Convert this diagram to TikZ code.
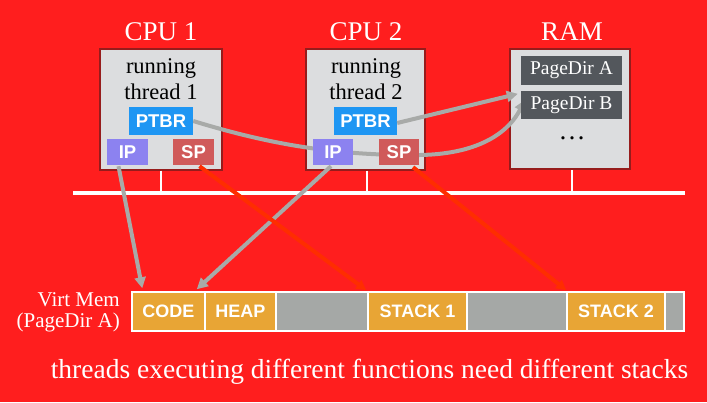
\documentclass[tikz,border=0pt]{standalone}
\usepackage{fontspec}
\setmainfont{Liberation Serif}
\setsansfont{Liberation Sans}
\usetikzlibrary{arrows.meta,calc}
\pgfdeclarelayer{bg}
\pgfdeclarelayer{mid}
\pgfsetlayers{bg,mid,main}
\definecolor{bgred}{RGB}{255,30,30}
\definecolor{boxfill}{RGB}{220,221,223}
\definecolor{boxline}{RGB}{150,28,28}
\definecolor{ptbrblue}{RGB}{30,150,243}
\definecolor{ippurple}{RGB}{140,130,240}
\definecolor{spred}{RGB}{208,90,90}
\definecolor{pddark}{RGB}{83,87,92}
\definecolor{segorange}{RGB}{232,165,53}
\definecolor{seggray}{RGB}{165,168,166}
\definecolor{arrgray}{RGB}{168,170,168}
\definecolor{arrred}{RGB}{255,45,0}
\tikzset{
  unitbox/.style={draw=boxline, line width=2pt, fill=boxfill, inner sep=0pt, minimum height=121pt},
  title/.style={text=white, font=\fontsize{27}{28}\selectfont, inner sep=0pt},
  reg/.style={inner sep=0pt, text=white, font=\sffamily\bfseries\fontsize{18.5}{18}\selectfont, minimum height=26pt},
  pdbox/.style={inner sep=0pt, fill=pddark, text=white, minimum width=101pt, font=\fontsize{19.5}{20}\selectfont},
  seg/.style={draw=white, line width=1.5pt, inner sep=0pt, minimum height=39pt, text=white, font=\sffamily\bfseries\fontsize{18}{18}\selectfont},
  orangeseg/.style={seg, fill=segorange},
  grayseg/.style={seg, fill=seggray},
  garrow/.style={draw=arrgray, line width=4pt, -{Triangle[length=11pt,width=11pt]}},
  rarrow/.style={draw=arrred, line width=4pt, -{Triangle[length=10pt,width=10pt]}},
  bus/.style={draw=white, line width=3.5pt},
  tick/.style={draw=white, line width=2pt}
}
\begin{document}
\begin{tikzpicture}[x=1pt,y=-1pt]
\useasboundingbox (0,0) rectangle (707,402);
\begin{pgfonlayer}{bg}
\fill[bgred] (0,0) rectangle (707,402);
\node[unitbox, minimum width=122pt] (cpu1) at (161,109) {};
\node[unitbox, minimum width=119pt] (cpu2) at (365.5,109) {};
\node[unitbox, minimum width=120pt, minimum height=120pt] (ram) at (570,109) {};
\end{pgfonlayer}
% titles
\node[title] (t1) at (161,32) {CPU 1};
\node[title] (t2) at (366,32) {CPU 2};
\node[title] (t3) at (572,32) {RAM};
% thread texts
\node[align=center, inner sep=0pt, font=\fontsize{22.5}{26}\selectfont] (th1) at (161,79.5) {running\\thread 1};
\node[align=center, inner sep=0pt, font=\fontsize{22.5}{26}\selectfont] (th2) at (366,79.5) {running\\thread 2};
% registers
\node[reg, fill=ptbrblue, minimum width=64pt, minimum height=28pt] (ptbr1) at (161,121) {PTBR};
\node[reg, fill=ptbrblue, minimum width=63pt, minimum height=28pt] (ptbr2) at (365.5,121) {PTBR};
\node[reg, fill=ippurple, minimum width=41pt] (ip1) at (127.5,152) {IP};
\node[reg, fill=spred, minimum width=41pt] (sp1) at (193.5,152) {SP};
\node[reg, fill=ippurple, minimum width=40pt] (ip2) at (333,152) {IP};
\node[reg, fill=spred, minimum width=40pt] (sp2) at (399,152) {SP};
% RAM contents
\node[pdbox, minimum height=29pt] (pdA) at (571.5,70.5) {PageDir A};
\node[pdbox, minimum height=28pt] (pdB) at (571.5,105) {PageDir B};
\node[anchor=base, inner sep=0pt, font=\fontsize{27}{27}\selectfont] (dots) at (572,139) {…};
% bus
\coordinate (busL) at (73,193);
\coordinate (busR) at (685,193);
\draw[bus] (busL) -- (busR);
\draw[tick] (cpu1.south) -- (cpu1.south |- busL);
\draw[tick] ([xshift=1.5pt]cpu2.south) -- ([xshift=1.5pt]cpu2.south |- busL);
\draw[tick] ([xshift=2pt]ram.south) -- ([xshift=2pt]ram.south |- busL);
% virtual memory bar
\node[orangeseg, minimum width=73pt] (code) at (168.5,311.5) {CODE};
\node[orangeseg, minimum width=71pt] (heap) at (240.5,311.5) {HEAP};
\node[grayseg, minimum width=92pt] (gap1) at (322,311.5) {};
\node[orangeseg, minimum width=99pt] (stack1) at (417.5,311.5) {STACK 1};
\node[grayseg, minimum width=100pt] (gap2) at (517,311.5) {};
\node[orangeseg, minimum width=98pt] (stack2) at (616,311.5) {STACK 2};
\node[grayseg, minimum width=19pt] (gap3) at (674.5,311.5) {};
\node[anchor=east, align=right, inner sep=0pt, text=white, font=\fontsize{21}{21}\selectfont] (vm) at (120,312) {Virt Mem\\(PageDir A)};
% caption
\node[anchor=base, inner sep=0pt, text=white, font=\fontsize{27.5}{28}\selectfont] (cap) at (369.5,378) {threads executing different functions need different stacks};
% connectors
\begin{pgfonlayer}{mid}
\draw[garrow] (ptbr1.east) .. controls (262,142) and (330,156) .. (420,155) .. controls (482,154) and (510,130) .. ($(pdB.west)+(4,-5)$);
\end{pgfonlayer}
\draw[garrow] ($(ptbr2.east)+(0,2)$) -- ($(pdB.north west)+(-3,3)$);
\draw[garrow] ($(ip1.south)+(-9,1)$) -- ($(code.north west)+(11,-3)$);
\draw[garrow] ($(ip2.south)+(-2,1)$) -- ($(code.north east)+(-9,-2)$);
\draw[rarrow] ($(sp1.south)+(6,1)$) -- ($(stack1.north west)+(-1,-1)$);
\draw[rarrow] ($(sp2.south)+(14,2)$) -- ($(stack2.north west)+(0,-1)$);
\end{tikzpicture}
\end{document}
